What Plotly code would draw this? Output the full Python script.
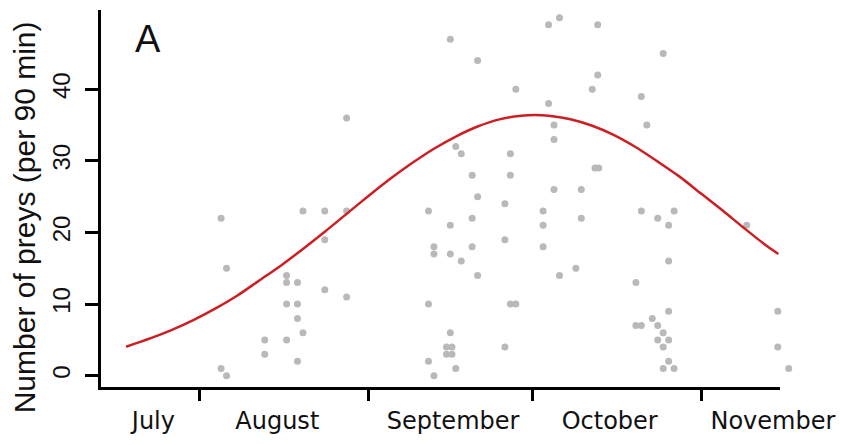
import plotly.graph_objects as go

# Observations: day of season (0 = 1 July) and number of preys per 90 min
obs_day = [35, 35, 36, 36, 43, 43, 47, 47, 47, 47, 49, 49, 49, 49, 50, 50,
           54, 54, 54, 58, 58, 58, 73, 73, 73, 74, 74, 74, 77, 77, 77, 77,
           76.3, 76.3, 77.3, 77.3, 78, 78, 79, 79, 81, 81, 81, 82, 82, 82,
           87, 87, 87, 88, 88, 88, 89, 89, 94, 94, 94, 95, 95, 96, 96, 96,
           97, 97, 100, 101, 101, 103, 104, 104, 103.5, 104.2, 111, 111,
           112, 112, 112, 113, 114, 115, 115, 115, 116, 116, 116, 116,
           117, 117, 117, 117, 117, 118, 118, 131.3, 137, 137, 139]
obs_prey = [22, 1, 15, 0, 5, 3, 14, 13, 10, 5, 13, 10, 8, 2, 23, 6,
            23, 19, 12, 36, 23, 11, 23, 10, 2, 18, 17, 0, 47, 21, 17, 6,
            4, 3, 4, 3, 32, 1, 31, 16, 28, 22, 18, 44, 25, 14,
            24, 19, 4, 31, 28, 10, 40, 10, 23, 21, 18, 49, 38, 35, 33, 26,
            50, 14, 15, 26, 22, 40, 49, 42, 29, 29, 13, 7,
            39, 23, 7, 35, 8, 22, 7, 5, 45, 6, 4, 1,
            21, 16, 9, 5, 2, 23, 1, 21, 9, 4, 1]

# Fitted seasonal curve
fit_day = [17.6, 22, 26, 30, 34, 38, 42, 46, 50, 54, 58, 62, 66, 70, 74, 78,
           82, 86, 90, 92.5, 95, 99, 103, 107, 111, 115, 119, 123, 127, 131,
           135, 137.1]
fit_prey = [4.05, 5.2, 6.4, 7.8, 9.4, 11.2, 13.3, 15.4, 17.7, 20.1, 22.6,
            25.1, 27.5, 29.7, 31.7, 33.4, 34.8, 35.8, 36.3, 36.4, 36.3, 35.8,
            34.9, 33.6, 31.9, 29.9, 27.8, 25.4, 23.0, 20.5, 18.1, 17.0]

# Month boundaries (tick marks) and month label positions
month_bounds = [31, 62, 92, 123]
month_label_pos = [22.6, 45.3, 77.5, 106.2, 136.1]
month_names = ["July", "August", "September", "October", "November"]

y_ticks = [0, 10, 20, 30, 40]

# data range of the plotting region (extends a little past the drawn axis line)
x_range = [13.0, 140.15]
y_range = [-1.58, 51.07]
axis_line_frac = 679 / 694  # drawn bottom axis stops short of the right edge

fig = go.Figure()
fig.add_trace(go.Scatter(
    x=obs_day, y=obs_prey, mode="markers", cliponaxis=False,
    marker=dict(size=7, color="#b9b9b9", line=dict(width=0)),
    showlegend=False, hoverinfo="skip"))
fig.add_trace(go.Scatter(
    x=fit_day, y=fit_prey, mode="lines", xaxis="x2",
    line=dict(color="#cc1f24", width=2.5, shape="spline", smoothing=0.8),
    showlegend=False, hoverinfo="skip"))
# empty trace so that the axis-line-only x axis gets drawn
fig.add_trace(go.Scatter(x=[], y=[], xaxis="x3", yaxis="y", mode="markers",
                         showlegend=False, hoverinfo="skip"))

fig.update_layout(
    width=842, height=445, autosize=False,
    margin=dict(l=101, r=47, t=10, b=58, pad=0),
    paper_bgcolor="white", plot_bgcolor="rgba(0,0,0,0)",
    xaxis=dict(range=x_range, showgrid=False, zeroline=False, automargin=False,
               showline=False,
               tickmode="array", tickvals=month_label_pos, ticktext=month_names,
               ticks="", ticklabelstandoff=17,
               tickfont=dict(family="DejaVu Sans", size=24, color="#111111")),
    xaxis2=dict(range=x_range, overlaying="x", side="bottom", showgrid=False,
                zeroline=False, showline=False, tickmode="array",
                automargin=False,
                tickvals=month_bounds, ticks="outside", ticklen=13,
                tickwidth=3, tickcolor="black", showticklabels=False),
    xaxis3=dict(domain=[0, axis_line_frac], anchor="y", range=[0, 1],
                showgrid=False, zeroline=False, showline=True, linewidth=3,
                linecolor="black", showticklabels=False, ticks="",
                automargin=False),
    yaxis=dict(range=y_range, showgrid=False, zeroline=False, automargin=False,
               showline=True, linewidth=3, linecolor="black",
               tickmode="array", tickvals=y_ticks, ticks="outside",
               ticklen=13, tickwidth=3, tickcolor="black", tickangle=-90,
               ticklabelstandoff=5,
               tickfont=dict(family="Liberation Sans, Arial", size=24,
                             color="#111111")),
    annotations=[
        dict(text="Number of preys (per 90 min)", textangle=-90,
             xref="paper", yref="paper", x=-0.111, y=0.45,
             xanchor="center", yanchor="middle", showarrow=False,
             font=dict(family="Liberation Sans, Arial", size=30,
                       color="#111111")),
        dict(text="A", xref="paper", yref="paper", x=0.0677, y=0.924,
             xanchor="center", yanchor="middle", showarrow=False,
             font=dict(family="Liberation Sans, Arial", size=38,
                       color="#111111")),
    ],
)

fig.write_html("out.html")
